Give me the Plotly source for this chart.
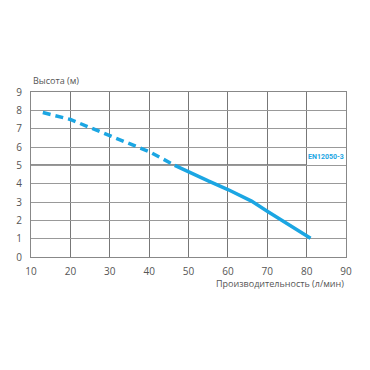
import plotly.graph_objects as go

dashed_x = [13, 20, 30, 40, 46.5]
dashed_y = [7.88, 7.5, 6.62, 5.75, 5.0]
solid_x = [46.5, 50, 55, 60, 66, 70, 75, 81]
solid_y = [5.0, 4.63, 4.15, 3.68, 3.05, 2.5, 1.85, 1.02]
x_ticks = [10, 20, 30, 40, 50, 60, 70, 80, 90]
y_ticks = [0, 1, 2, 3, 4, 5, 6, 7, 8, 9]
std_level = 5
std_label = "EN12050-3"

blue = "#1BA6E3"
fig = go.Figure()
fig.add_trace(go.Scatter(x=dashed_x, y=dashed_y, mode="lines",
                         line=dict(color=blue, width=3.5, dash="8px,5px"), hoverinfo="skip"))
fig.add_trace(go.Scatter(x=solid_x, y=solid_y, mode="lines",
                         line=dict(color=blue, width=3.5), hoverinfo="skip"))
fig.add_shape(type="line", x0=10, x1=80, y0=std_level, y1=std_level,
              line=dict(color="#222222", width=1.5), layer="below")
fig.add_annotation(x=85, y=std_level, text="<b>" + std_label + "</b>", showarrow=False, yshift=8,
                   font=dict(size=7, color=blue, family="Roboto"))

fig.update_layout(
    width=370, height=370, showlegend=False,
    margin=dict(l=23, r=32, t=84, b=121, autoexpand=False),
    paper_bgcolor="white", plot_bgcolor="white",
    font=dict(family="Open Sans", color="#555555", size=10),
    xaxis=dict(range=[10, 90], tickvals=x_ticks, showgrid=True, gridcolor="#777777",
               gridwidth=1, zeroline=False, showline=True, linecolor="#888888", mirror=True,
               ticks="", ticklabelstandoff=5, automargin=False),
    yaxis=dict(range=[0, 9], tickvals=y_ticks, showgrid=True, gridcolor="#999999",
               gridwidth=1, zeroline=False, showline=True, linecolor="#888888", mirror=True,
               ticks="", ticklabelstandoff=6, automargin=False),
)
fig.add_annotation(xref="paper", yref="paper", x=0, y=1, yshift=3, xanchor="left",
                   yanchor="bottom", text="Высота (м)", showarrow=False,
                   font=dict(size=9, color="#555555"))
fig.add_annotation(xref="paper", yref="paper", x=1, y=0, yshift=-18, xanchor="right",
                   yanchor="top", text="Производительность (л/мин)", showarrow=False,
                   font=dict(size=9, color="#555555"))
fig.write_html("out.html")
